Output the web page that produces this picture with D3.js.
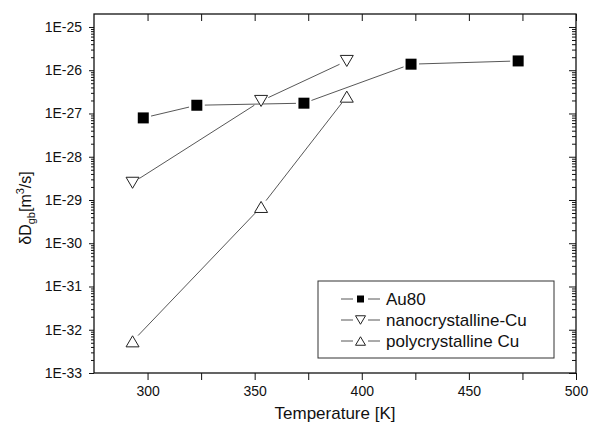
<!DOCTYPE html>
<html lang="en">
<head>
<meta charset="UTF-8">
<title>Grain boundary diffusion</title>
<script src="https://cdn.jsdelivr.net/npm/d3@7"></script>
<style>
  body { margin: 0; background: #fff; }
  svg { font-family: "Liberation Sans", Arial, sans-serif; }
</style>
</head>
<body>
<div id="grafica"></div>
<script>
// data
au80T  = [298, 323, 373, 423, 473]
au80D  = [7.9e-28, 1.55e-27, 1.73e-27, 1.38e-26, 1.64e-26]
nanoT  = [293, 353, 393]
nanoD  = [2.5e-29, 1.95e-27, 1.64e-26]
polyT  = [293, 353, 393]
polyD  = [5.4e-33, 6.9e-30, 2.45e-27]

xTicks = [300, 325, 350, 375, 400, 425, 450, 475, 500]
yExp   = [-33, -32, -31, -30, -29, -28, -27, -26, -25]

series = [
  { name: 'Au80', t: au80T, d: au80D, mark: 'square' },
  { name: 'nanocrystalline-Cu', t: nanoT, d: nanoD, mark: 'down' },
  { name: 'polycrystalline Cu', t: polyT, d: polyD, mark: 'up' }
]

ancho = 589
alto  = 425
m = { left: 94, right: 576, top: 14, bottom: 373 }

svg = d3.select('#grafica')
        .append('svg')
        .attr('width', ancho)
        .attr('height', alto)

x = d3.scaleLinear()
      .domain([275, 500])
      .range([m.left, m.right])
y = d3.scaleLog()
      .domain([1e-33, Math.pow(10, -24.7)])
      .range([m.bottom, m.top])

majorY = yExp.map(e => Math.pow(10, e))
minorY = []
yExp.forEach(function(e) {
  for (k = 2; k <= 9; k++) {
    v = k * Math.pow(10, e)
    if (v < y.domain()[1]) minorY.push(v)
  }
})

function axisStyle(g) {
  g.select('.domain').remove()
  g.selectAll('line').attr('stroke', '#111').attr('stroke-width', 1)
  g.selectAll('text').attr('fill', '#111').attr('font-size', 14)
}

// bottom axis
svg.append('g')
   .attr('transform', 'translate(0,' + m.bottom + ')')
   .call(d3.axisBottom(x).tickValues(xTicks).tickSize(7).tickPadding(6)
         .tickFormat(d => d % 50 === 0 ? d : ''))
   .call(axisStyle)

// top axis, ticks inward
svg.append('g')
   .attr('transform', 'translate(0,' + m.top + ')')
   .call(d3.axisTop(x).tickValues(xTicks).tickSize(-7).tickFormat(''))
   .call(axisStyle)

// left axis
svg.append('g')
   .attr('transform', 'translate(' + m.left + ',0)')
   .call(d3.axisLeft(y).tickValues(minorY).tickSize(3).tickFormat(''))
   .call(axisStyle)
svg.append('g')
   .attr('transform', 'translate(' + m.left + ',0)')
   .call(d3.axisLeft(y).tickValues(majorY).tickSize(5).tickPadding(7)
         .tickFormat(d => '1E' + Math.round(Math.log10(d))))
   .call(axisStyle)

// right axis, ticks inward
svg.append('g')
   .attr('transform', 'translate(' + m.right + ',0)')
   .call(d3.axisRight(y).tickValues(minorY).tickSize(-4).tickFormat(''))
   .call(axisStyle)
svg.append('g')
   .attr('transform', 'translate(' + m.right + ',0)')
   .call(d3.axisRight(y).tickValues(majorY).tickSize(-7).tickFormat(''))
   .call(axisStyle)

// frame
svg.append('rect')
   .attr('x', m.left).attr('y', m.top)
   .attr('width', m.right - m.left).attr('height', m.bottom - m.top)
   .attr('fill', 'none').attr('stroke', '#111').attr('stroke-width', 1.3)

function markerPath(type, s) {
  h = s * 0.85
  if (type === 'up')   return 'M0,' + (-h/2) + 'L' + (s/2) + ',' + (h/2) + 'L' + (-s/2) + ',' + (h/2) + 'Z'
  if (type === 'down') return 'M0,' + (h/2) + 'L' + (s/2) + ',' + (-h/2) + 'L' + (-s/2) + ',' + (-h/2) + 'Z'
  return 'M' + (-s/2) + ',' + (-s/2) + 'h' + s + 'v' + s + 'h' + (-s) + 'Z'
}

function drawMarker(g, type, px, py, s) {
  g.append('path')
   .attr('d', markerPath(type, s))
   .attr('transform', 'translate(' + px + ',' + py + ')')
   .attr('fill', type === 'square' ? '#000' : '#fff')
   .attr('stroke', type === 'square' ? 'none' : '#222')
   .attr('stroke-width', 1)
}

gap = 8
plot = svg.append('g')
series.forEach(function(s) {
  pts = s.t.map((t, i) => [x(t), y(s.d[i])])
  for (i = 0; i < pts.length - 1; i++) {
    a = pts[i]; b = pts[i + 1]
    dx = b[0] - a[0]; dy = b[1] - a[1]
    L = Math.sqrt(dx * dx + dy * dy)
    plot.append('line')
        .attr('x1', a[0] + dx / L * gap).attr('y1', a[1] + dy / L * gap)
        .attr('x2', b[0] - dx / L * gap).attr('y2', b[1] - dy / L * gap)
        .attr('stroke', '#444').attr('stroke-width', 0.9)
  }
})
series.forEach(function(s) {
  s.t.forEach(function(t, i) {
    drawMarker(plot, s.mark, x(t), y(s.d[i]), s.mark === 'square' ? 11 : 13)
  })
})

// legend
leg = svg.append('g')
leg.append('rect')
   .attr('x', 318).attr('y', 281).attr('width', 236).attr('height', 77)
   .attr('fill', '#fff').attr('stroke', '#333').attr('stroke-width', 1)
series.forEach(function(s, i) {
  ly = 299 + i * 21
  leg.append('line').attr('x1', 341).attr('x2', 353).attr('y1', ly).attr('y2', ly)
     .attr('stroke', '#444').attr('stroke-width', 0.9)
  leg.append('line').attr('x1', 368).attr('x2', 380).attr('y1', ly).attr('y2', ly)
     .attr('stroke', '#444').attr('stroke-width', 0.9)
  drawMarker(leg, s.mark, 360.5, ly, s.mark === 'square' ? 7 : 10)
  leg.append('text').attr('x', 386).attr('y', ly + 6)
     .attr('font-size', 17).attr('fill', '#111').text(s.name)
})

// axis titles
svg.append('text')
   .attr('x', 335).attr('y', 419)
   .attr('text-anchor', 'middle').attr('font-size', 17).attr('fill', '#111')
   .text('Temperature [K]')

yl = svg.append('text')
   .attr('transform', 'translate(31,208) rotate(-90)')
   .attr('text-anchor', 'middle').attr('font-size', 16).attr('fill', '#111')
yl.append('tspan').text('δD')
yl.append('tspan').attr('font-size', 11).attr('dy', 4).text('gb')
yl.append('tspan').attr('dy', -4).text('[m')
yl.append('tspan').attr('font-size', 11).attr('dy', -7).text('3')
yl.append('tspan').attr('dy', 7).text('/s]')
</script>
</body>
</html>
